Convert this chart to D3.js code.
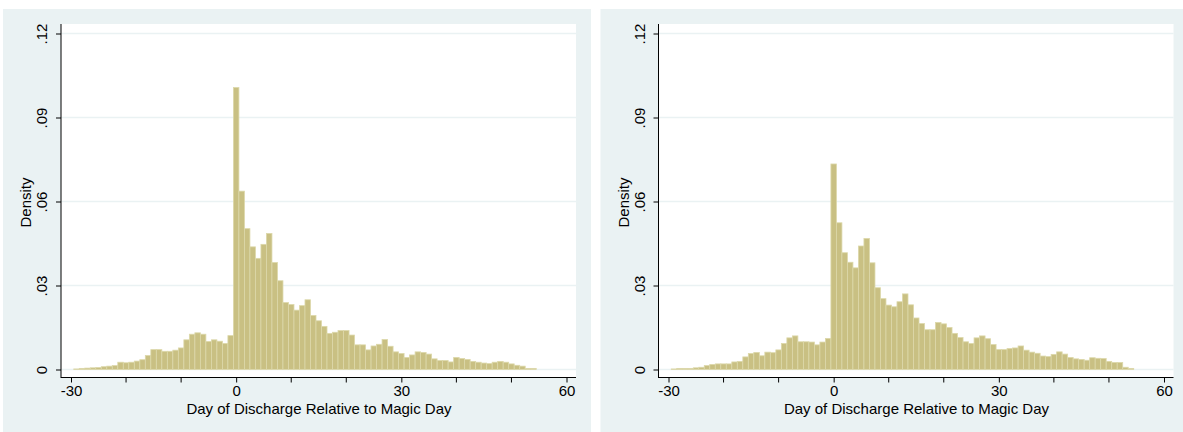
<!DOCTYPE html>
<html>
<head>
<meta charset="utf-8">
<script src="https://cdn.jsdelivr.net/npm/d3@7"></script>
<style>
  body { margin: 0; background: #fff; }
  text { font-family: "Liberation Sans", Arial, sans-serif; fill: #000; }
</style>
</head>
<body>
<div id="mainContainer"><svg></svg></div>
<script>
const SVG_WIDTH = 1183;
const SVG_HEIGHT = 432;

// days on the x axis (one bar per day)
const days = [-29, -28, -27, -26, -25, -24, -23, -22, -21, -20, -19, -18, -17, -16, -15, -14,
  -13, -12, -11, -10, -9, -8, -7, -6, -5, -4, -3, -2, -1, 0, 1, 2, 3, 4, 5, 6, 7, 8, 9, 10,
  11, 12, 13, 14, 15, 16, 17, 18, 19, 20, 21, 22, 23, 24, 25, 26, 27, 28, 29, 30, 31, 32,
  33, 34, 35, 36, 37, 38, 39, 40, 41, 42, 43, 44, 45, 46, 47, 48, 49, 50, 51, 52, 53, 54];

// density, left panel
const densityLeft = [0.0002, 0.0004, 0.0005, 0.0006, 0.0007, 0.0010, 0.0012, 0.0014, 0.0026,
  0.0024, 0.0026, 0.0030, 0.0035, 0.0050, 0.0071, 0.0071, 0.0065, 0.0065, 0.0069, 0.0077,
  0.0106, 0.0126, 0.0131, 0.0126, 0.0100, 0.0106, 0.0101, 0.0093, 0.0121,
  0.1007, 0.0637, 0.0503, 0.0438, 0.0397, 0.0447, 0.0486, 0.0382, 0.0317, 0.0239, 0.0232,
  0.0212, 0.0228, 0.0249, 0.0193, 0.0174, 0.0154, 0.0129, 0.0133, 0.0139, 0.0139, 0.0123,
  0.0088, 0.0088, 0.0070, 0.0084, 0.0090, 0.0107, 0.0083, 0.0063, 0.0057, 0.0043, 0.0052,
  0.0063, 0.0061, 0.0055, 0.0038, 0.0032, 0.0032, 0.0027, 0.0043, 0.0039, 0.0036, 0.0029,
  0.0026, 0.0023, 0.0021, 0.0026, 0.0029, 0.0026, 0.0020, 0.0015, 0.0012, 0.0004, 0.0004];

// density, right panel
const densityRight = [0.0002, 0.0004, 0.0004, 0.0004, 0.0006, 0.0008, 0.0014, 0.0018, 0.0020,
  0.0020, 0.0020, 0.0027, 0.0029, 0.0045, 0.0057, 0.0061, 0.0049, 0.0062, 0.0060, 0.0070,
  0.0093, 0.0113, 0.0120, 0.0099, 0.0099, 0.0098, 0.0088, 0.0098, 0.0111,
  0.0734, 0.0524, 0.0417, 0.0383, 0.0363, 0.0441, 0.0468, 0.0381, 0.0292, 0.0253, 0.0230,
  0.0224, 0.0242, 0.0270, 0.0231, 0.0184, 0.0164, 0.0142, 0.0142, 0.0168, 0.0163, 0.0150,
  0.0129, 0.0114, 0.0099, 0.0093, 0.0113, 0.0120, 0.0110, 0.0089, 0.0071, 0.0071, 0.0075,
  0.0077, 0.0084, 0.0069, 0.0062, 0.0058, 0.0048, 0.0046, 0.0054, 0.0063, 0.0055, 0.0043,
  0.0038, 0.0036, 0.0033, 0.0042, 0.0040, 0.0039, 0.0029, 0.0025, 0.0025, 0.0008, 0.0004];

const yTicks = [0, 0.03, 0.06, 0.09, 0.12];
const yTickLabels = ["0", ".03", ".06", ".09", ".12"];
const xMajorTicks = [-30, 0, 30, 60];
const xTickLabels = ["-30", "0", "30", "60"];
const xMinorTicks = [-20, -10, 10, 20, 40, 50];
const xTitle = "Day of Discharge Relative to Magic Day";
const yTitle = "Density";

const BG = "#eaf2f3";
const BAR_FILL = "#c9c083";
const BAR_EDGE = "#dcd8aa";
const FONT_SIZE = 15;

let svg = d3.select("svg")
    .attr("width", SVG_WIDTH)
    .attr("height", SVG_HEIGHT);

function drawPanel(offsetX, values) {
    let g = svg.append("g").attr("transform", `translate(${offsetX},0)`);

    // panel background
    g.append("rect")
        .attr("x", 3).attr("y", 9)
        .attr("width", 588).attr("height", 423)
        .attr("fill", BG);

    // plot region
    const plotLeft = 61, plotRight = 576, plotTop = 24, plotBottom = 377;
    g.append("rect")
        .attr("x", plotLeft).attr("y", plotTop)
        .attr("width", plotRight - plotLeft).attr("height", plotBottom - plotTop)
        .attr("fill", "#fff");

    let x = d3.scaleLinear().domain([-30, 60]).range([71, 566.5]);
    let y = d3.scaleLinear().domain([0, 0.12]).range([369.5, 33.5]);
    const halfBar = (x(1) - x(0)) / 2;

    // gridlines
    g.selectAll("line.grid")
        .data(yTicks)
        .enter()
        .append("line")
        .attr("class", "grid")
        .attr("x1", plotLeft).attr("x2", plotRight)
        .attr("y1", d => y(d)).attr("y2", d => y(d))
        .attr("stroke", BG)
        .attr("stroke-width", 1.3);

    // bars
    g.selectAll("rect.bar")
        .data(days.map((d, i) => ({ day: d, v: values[i] })))
        .enter()
        .append("rect")
        .attr("class", "bar")
        .attr("x", d => x(d.day) - halfBar)
        .attr("width", halfBar * 2)
        .attr("y", d => y(d.v))
        .attr("height", d => y(0) - y(d.v))
        .attr("fill", BAR_FILL)
        .attr("stroke", BAR_EDGE)
        .attr("stroke-width", 0.8);

    // y axis
    let yAxis = d3.axisLeft(y)
        .tickValues(yTicks)
        .tickFormat((d, i) => yTickLabels[i])
        .tickSize(5)
        .tickSizeOuter(0);
    let yg = g.append("g")
        .attr("transform", `translate(${plotLeft},0)`)
        .call(yAxis);
    yg.select(".domain").remove();
    yg.append("line")
        .attr("x1", 0).attr("x2", 0)
        .attr("y1", plotTop).attr("y2", plotBottom + 1)
        .attr("stroke", "#000");
    yg.selectAll(".tick line").attr("stroke", "#000");
    yg.selectAll(".tick text")
        .attr("font-size", FONT_SIZE)
        .attr("font-family", "Liberation Sans, Arial, sans-serif")
        .attr("x", 0).attr("dy", 0)
        .attr("text-anchor", "middle")
        .attr("transform", "translate(-14,0) rotate(-90)");

    // x axis
    let xAxis = d3.axisBottom(x)
        .tickValues(xMajorTicks)
        .tickFormat((d, i) => xTickLabels[i])
        .tickSize(5)
        .tickSizeOuter(0);
    let xg = g.append("g")
        .attr("transform", `translate(0,${plotBottom + 0.5})`)
        .call(xAxis);
    xg.select(".domain").remove();
    xg.append("line")
        .attr("x1", plotLeft).attr("x2", plotRight)
        .attr("y1", 0).attr("y2", 0)
        .attr("stroke", "#000");
    xg.selectAll(".tick line").attr("stroke", "#000");
    xg.selectAll(".tick text")
        .attr("font-size", FONT_SIZE)
        .attr("font-family", "Liberation Sans, Arial, sans-serif")
        .attr("y", 18.5).attr("dy", 0);
    xg.selectAll("line.minor")
        .data(xMinorTicks)
        .enter()
        .append("line")
        .attr("class", "minor")
        .attr("x1", d => x(d)).attr("x2", d => x(d))
        .attr("y1", 0).attr("y2", 5)
        .attr("stroke", "#000");

    // titles
    g.append("text")
        .attr("x", (plotLeft + plotRight) / 2 + 0.5)
        .attr("y", 414)
        .attr("text-anchor", "middle")
        .attr("font-size", FONT_SIZE)
        .text(xTitle);
    g.append("text")
        .attr("transform", `translate(31,${(plotTop + plotBottom) / 2 + 2}) rotate(-90)`)
        .attr("text-anchor", "middle")
        .attr("font-size", FONT_SIZE)
        .text(yTitle);
}

drawPanel(0, densityLeft);
drawPanel(597.5, densityRight);
</script>
</body>
</html>
